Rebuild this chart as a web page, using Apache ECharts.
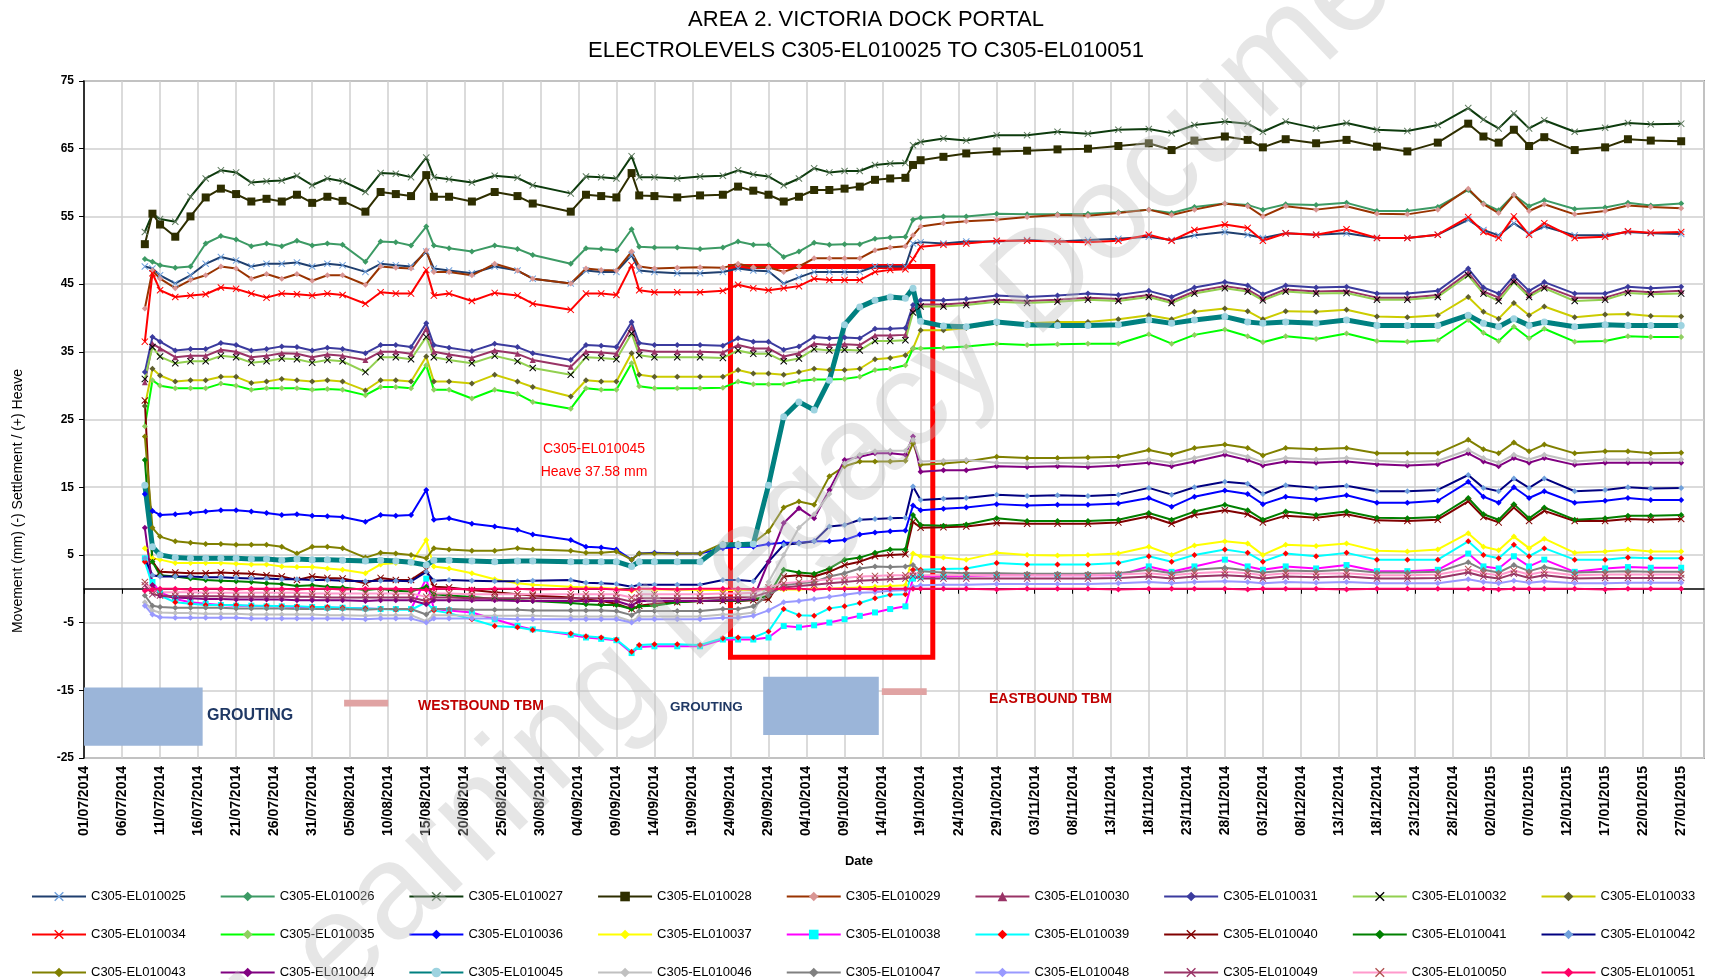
<!DOCTYPE html>
<html>
<head>
<meta charset="utf-8">
<script src="https://cdn.jsdelivr.net/npm/echarts@6/dist/echarts.min.js"></script>
<style>
  html, body { margin: 0; padding: 0; background: #fff; }
  #main { width: 1711px; height: 980px; }
</style>
</head>
<body>
<div id="main"></div>
<script>
// reading dates (dd/mm/yyyy)
var readingDates = [
  '09/07/2014','10/07/2014','11/07/2014','13/07/2014','15/07/2014','17/07/2014','19/07/2014','21/07/2014','23/07/2014','25/07/2014',
  '27/07/2014','29/07/2014','31/07/2014','02/08/2014','04/08/2014','07/08/2014','09/08/2014','11/08/2014','13/08/2014','15/08/2014',
  '16/08/2014','18/08/2014','21/08/2014','24/08/2014','27/08/2014','29/08/2014','03/09/2014','05/09/2014','07/09/2014','09/09/2014',
  '11/09/2014','12/09/2014','14/09/2014','17/09/2014','20/09/2014','23/09/2014','25/09/2014','27/09/2014','29/09/2014','01/10/2014',
  '03/10/2014','05/10/2014','07/10/2014','09/10/2014','11/10/2014','13/10/2014','15/10/2014','17/10/2014','18/10/2014','19/10/2014',
  '22/10/2014','25/10/2014','29/10/2014','02/11/2014','06/11/2014','10/11/2014','14/11/2014','18/11/2014','21/11/2014','24/11/2014',
  '28/11/2014','01/12/2014','03/12/2014','06/12/2014','10/12/2014','14/12/2014','18/12/2014','22/12/2014','26/12/2014','30/12/2014',
  '01/01/2015','03/01/2015','05/01/2015','07/01/2015','09/01/2015','13/01/2015','17/01/2015','20/01/2015','23/01/2015','27/01/2015'
];

var xTickLabels = [
  '01/07/2014','06/07/2014','11/07/2014','16/07/2014','21/07/2014','26/07/2014','31/07/2014','05/08/2014','10/08/2014','15/08/2014',
  '20/08/2014','25/08/2014','30/08/2014','04/09/2014','09/09/2014','14/09/2014','19/09/2014','24/09/2014','29/09/2014','04/10/2014',
  '09/10/2014','14/10/2014','19/10/2014','24/10/2014','29/10/2014','03/11/2014','08/11/2014','13/11/2014','18/11/2014','23/11/2014',
  '28/11/2014','03/12/2014','08/12/2014','13/12/2014','18/12/2014','23/12/2014','28/12/2014','02/01/2015','07/01/2015','12/01/2015',
  '17/01/2015','22/01/2015','27/01/2015'
];

// movements (mm)
var el25 = [47.6,47.3,46.3,45.1,46.3,48.0,49.0,48.5,47.6,48.0, 48.0,48.2,47.6,48.0,47.8,46.8,48.0,47.8,47.6,49.8,
  47.3,47.0,46.6,47.6,47.0,45.8,45.1,47.0,46.8,46.8, 49.3,47.0,46.8,46.6,46.6,46.8,47.3,47.0,46.9,45.1,
  46.0,46.8,46.8,46.8,46.8,47.6,47.6,47.6,51.0,51.2, 51.0,51.3,51.3,51.5,51.3,51.5,51.7,52.0,51.5,52.2,
  52.7,52.3,51.8,52.5,52.3,52.5,51.8,51.8,52.3,54.5, 53.0,52.2,54.0,52.5,53.5,52.2,52.2,52.7,52.5,52.4];
var el26 = [48.7,48.3,47.8,47.4,47.6,51.0,52.1,51.6,50.6,51.0, 50.6,51.4,50.7,51.0,50.8,48.3,51.3,51.2,50.7,53.5,
  50.7,50.3,49.8,50.7,50.2,49.3,48.0,50.3,50.2,50.0, 53.1,50.5,50.4,50.4,50.2,50.4,51.3,50.8,50.8,49.0,
  49.8,51.1,50.8,50.9,50.9,51.7,51.9,52.0,54.5,54.8, 55.0,55.0,55.4,55.3,55.3,55.4,55.6,56.0,55.5,56.4,
  56.9,56.7,56.0,56.8,56.7,57.0,55.8,55.8,56.4,58.9, 56.9,55.9,58.2,56.5,57.4,56.1,56.3,57.0,56.6,56.9];
var el27 = [52.7,55.4,54.6,54.2,57.9,60.6,61.8,61.5,60.0,60.2, 60.3,61.0,59.6,60.6,60.2,58.6,61.4,61.3,60.8,63.7,
  60.8,60.5,60.0,61.0,60.7,59.6,58.4,60.9,60.8,60.6, 63.9,60.8,60.8,60.6,60.9,61.0,61.8,61.2,60.9,59.6,
  60.6,62.1,61.5,61.7,61.7,62.6,62.8,62.9,65.5,66.0, 66.5,66.2,67.0,67.0,67.5,67.2,67.8,67.9,67.3,68.5,
  69.0,68.7,67.5,69.0,68.0,68.8,67.8,67.6,68.5,71.0, 69.3,68.0,70.2,68.0,69.2,67.5,68.1,68.8,68.6,68.7];
var el28 = [50.9,55.4,53.8,52.0,55.0,57.8,59.1,58.3,57.2,57.6, 57.2,58.2,57.0,57.9,57.3,55.7,58.6,58.3,58.0,61.1,
  57.9,57.9,57.2,58.6,58.0,56.9,55.7,58.2,58.0,57.8, 61.4,58.1,58.0,57.8,58.1,58.2,59.4,58.8,58.2,57.2,
  57.9,58.9,58.9,59.1,59.4,60.4,60.6,60.7,62.6,63.3, 63.8,64.3,64.6,64.7,64.9,65.0,65.4,65.8,64.8,66.2,
  66.8,66.3,65.2,66.4,65.8,66.3,65.3,64.6,65.9,68.7, 66.8,65.9,67.8,65.4,66.7,64.8,65.2,66.4,66.2,66.1];
var el29 = [41.4,47.0,45.8,44.4,45.6,46.3,47.6,47.3,45.8,46.5, 45.8,46.5,45.5,46.3,46.3,44.9,47.6,47.4,47.3,50.0,
  46.8,46.8,46.3,48.0,47.0,45.8,45.1,47.3,47.1,47.0, 49.8,47.6,47.3,47.4,47.5,47.4,48.0,47.5,47.5,46.8,
  47.6,48.8,48.8,48.8,48.8,50.0,50.4,50.6,52.2,53.5, 54.0,54.3,54.5,54.9,55.2,55.1,55.5,56.0,55.2,56.0,
  56.9,56.5,55.0,56.5,56.0,56.5,55.4,55.3,56.0,59.1, 56.8,55.5,58.2,55.8,56.8,55.3,55.8,56.6,56.4,56.2];
var el30 = [30.5,36.2,35.5,34.2,34.4,34.4,35.3,35.0,34.2,34.4, 34.8,34.7,34.2,34.6,34.4,33.8,35.0,35.0,34.7,38.4,
  35.0,34.6,34.1,35.2,34.7,33.8,32.8,35.0,34.9,34.7, 38.6,35.3,35.0,35.0,35.0,34.9,36.0,35.5,35.5,34.3,
  34.8,36.2,36.0,36.1,36.0,37.4,37.4,37.5,41.3,42.0, 42.0,42.2,42.7,42.5,42.7,43.0,42.8,43.4,42.5,43.9,
  44.7,44.2,42.9,44.2,43.9,44.0,43.0,43.0,43.4,46.7, 43.9,43.0,45.6,43.4,44.7,43.0,43.0,44.0,43.8,44.0];
var el31 = [32.0,37.2,36.5,35.2,35.4,35.4,36.3,36.0,35.2,35.4, 35.8,35.7,35.2,35.6,35.4,34.8,36.0,36.0,35.7,39.2,
  36.0,35.6,35.1,36.2,35.7,34.8,33.8,36.0,35.9,35.7, 39.4,36.3,36.0,36.0,36.0,35.9,37.0,36.5,36.5,35.3,
  35.8,37.2,37.0,37.1,37.0,38.4,38.4,38.5,41.9,42.6, 42.6,42.8,43.3,43.1,43.3,43.6,43.4,44.0,43.1,44.5,
  45.3,44.8,43.5,44.8,44.5,44.6,43.6,43.6,44.0,47.3, 44.5,43.6,46.2,44.0,45.3,43.6,43.6,44.6,44.4,44.6];
var el32 = [31.0,35.7,34.3,33.3,33.6,33.6,34.4,34.2,33.4,33.6, 34.0,33.9,33.4,33.8,33.6,32.0,34.2,34.2,33.9,37.2,
  34.2,33.8,33.3,34.4,33.6,32.6,31.6,34.2,34.1,33.9, 37.7,34.5,34.2,34.2,34.2,34.1,35.2,34.7,34.7,33.6,
  34.0,35.4,35.2,35.3,35.2,36.6,36.6,36.7,40.8,41.7, 41.7,41.9,42.4,42.2,42.4,42.7,42.5,43.1,42.2,43.6,
  44.4,43.9,42.6,43.9,43.6,43.7,42.7,42.7,43.1,46.3, 43.6,42.5,45.3,43.1,44.4,42.5,42.7,43.7,43.5,43.6];
var el33 = [27.0,32.5,31.5,30.6,30.8,30.8,31.3,31.3,30.4,30.6, 31.0,30.8,30.6,30.8,30.6,29.3,30.8,30.8,30.6,34.3,
  30.6,30.6,30.3,31.6,30.6,29.8,28.4,30.8,30.6,30.6, 34.8,31.6,31.3,31.3,31.3,31.3,32.3,31.8,31.8,31.6,
  32.0,32.5,32.3,32.3,32.5,33.9,34.1,34.5,35.5,38.2, 38.2,38.5,39.2,39.2,39.4,39.4,39.8,40.4,39.8,40.9,
  41.4,41.0,39.8,41.0,40.9,41.2,40.2,40.1,40.4,43.1, 40.9,39.9,42.2,40.4,41.7,40.1,40.5,40.6,40.3,40.2];
var el34 = [36.5,46.6,44.1,43.1,43.3,43.5,44.5,44.3,43.6,43.0, 43.6,43.5,43.3,43.6,43.4,42.1,43.8,43.6,43.6,47.1,
  43.3,43.6,42.5,43.7,43.3,42.1,41.2,43.6,43.6,43.4, 47.8,44.1,43.8,43.8,43.8,44.0,44.9,44.4,44.1,44.4,
  44.7,45.8,45.6,45.6,45.6,46.8,47.1,47.2,48.7,50.5, 50.8,51.0,51.4,51.4,51.3,51.2,51.4,52.3,51.4,53.0,
  53.8,53.3,51.4,52.5,52.3,53.1,51.8,51.8,52.3,54.9, 52.7,51.8,55.0,52.3,54.0,51.8,52.0,52.8,52.6,52.7];
var el35 = [24.0,30.8,30.0,29.6,29.6,29.6,30.3,30.0,29.4,29.6, 29.6,29.6,29.4,29.5,29.4,28.6,29.8,29.8,29.6,33.0,
  29.4,29.4,28.1,29.4,28.8,27.6,26.6,29.6,29.4,29.4, 33.3,29.9,29.6,29.6,29.6,29.7,30.6,30.2,30.2,30.2,
  30.7,30.9,30.9,31.0,31.3,32.3,32.5,33.0,35.5,35.5, 35.6,35.8,36.2,36.0,36.1,36.2,36.2,37.6,36.2,37.5,
  38.3,37.3,36.4,37.3,36.9,37.7,36.6,36.5,36.7,39.7, 37.8,36.6,38.7,37.0,38.4,36.5,36.6,37.3,37.2,37.2];
var el36 = [14.0,11.5,10.9,11.0,11.2,11.4,11.6,11.6,11.4,11.2, 10.9,11.0,10.8,10.7,10.6,9.9,10.9,10.8,10.9,14.6,
  10.2,10.4,9.6,9.2,8.7,8.0,7.2,6.2,6.1,5.8, 4.3,5.2,5.3,5.2,5.2,6.0,6.2,6.2,6.6,6.8,
  6.8,7.0,7.0,7.2,8.0,8.3,8.5,8.6,12.3,11.6, 11.8,12.0,12.5,12.3,12.4,12.4,12.6,13.4,12.1,13.6,
  14.5,14.0,12.5,13.6,13.2,13.8,12.7,12.7,13.0,15.8, 13.6,12.7,15.0,13.4,14.4,12.7,13.0,13.4,13.1,13.1];
var el37 = [6.0,4.5,4.3,3.8,3.8,3.8,3.8,3.7,3.6,3.6, 3.3,3.2,3.2,3.0,2.8,2.3,3.6,3.8,3.8,7.2,
  3.3,3.0,2.3,1.4,0.8,0.6,0.3,0.2,0.1,0.0, -0.3,0.0,-0.1,-0.1,-0.2,-0.2,-0.2,-0.2,-0.2,-0.1,
  -0.1,0.0,0.0,0.1,0.2,0.3,0.4,0.5,5.2,4.8, 4.6,4.3,5.3,5.0,4.9,5.0,5.2,6.2,5.0,6.4,
  7.0,6.7,5.0,6.5,6.3,6.7,5.6,5.5,5.8,8.2, 6.2,5.7,7.7,6.0,7.4,5.3,5.5,5.8,5.5,5.5];
var el38 = [4.5,1.0,-0.5,-1.5,-2.0,-2.2,-2.4,-2.5,-2.5,-2.6, -2.6,-2.7,-2.7,-2.8,-2.8,-2.9,-3.0,-3.0,-3.0,1.5,
  -3.0,-3.2,-3.5,-4.5,-5.5,-6.0,-6.8,-7.2,-7.4,-7.6, -9.5,-8.6,-8.5,-8.5,-8.5,-7.5,-7.5,-7.5,-7.2,-5.5,
  -5.7,-5.4,-5.0,-4.5,-4.0,-3.5,-3.0,-2.6,1.5,1.8, 1.8,1.9,2.0,2.0,2.0,2.0,2.0,3.3,2.5,3.3,
  4.3,3.3,2.8,3.3,3.0,3.5,2.6,2.6,2.8,5.2, 3.3,3.0,4.8,3.3,4.3,2.5,3.0,3.2,3.1,3.1];
var el39 = [4.0,0.5,-1.0,-2.0,-2.2,-2.4,-2.4,-2.4,-2.5,-2.5, -2.6,-2.6,-2.7,-2.7,-2.8,-2.9,-3.0,-3.1,-3.1,-2.0,
  -3.2,-3.6,-4.5,-5.5,-5.7,-6.1,-6.6,-7.0,-7.2,-7.5, -9.3,-8.3,-8.2,-8.2,-8.3,-7.3,-7.2,-7.2,-6.3,-3.0,
  -3.9,-4.0,-2.9,-2.6,-2.1,-1.4,-0.9,-0.8,2.8,2.8, 2.9,3.0,3.8,3.6,3.6,3.6,3.8,4.8,4.0,5.0,
  5.8,5.3,4.0,5.2,4.8,5.3,4.3,4.3,4.3,7.0, 5.0,4.5,6.5,4.8,6.0,4.3,4.3,4.6,4.5,4.5];
var el40 = [27.8,4.0,2.5,2.4,2.3,2.3,2.4,2.3,2.2,2.0, 1.8,1.3,1.8,1.6,1.5,0.8,1.6,1.3,1.3,2.8,
  0.3,0.2,-0.2,-0.5,-0.8,-1.0,-1.3,-1.6,-1.8,-2.2, -3.0,-2.5,-2.2,-2.0,-1.8,-1.8,-1.8,-1.7,-1.6,1.8,
  2.0,1.8,2.5,3.5,4.0,4.8,5.0,5.1,9.9,9.0, 9.1,9.2,9.7,9.6,9.6,9.6,9.8,10.7,9.6,10.9,
  11.6,11.0,9.8,10.8,10.5,11.0,10.1,10.0,10.2,12.9, 10.6,9.8,12.0,10.0,11.5,10.0,10.0,10.3,10.2,10.3];
var el41 = [19.0,4.0,2.0,1.8,1.5,1.3,1.2,1.1,1.0,0.8, 0.7,0.4,0.5,0.3,0.2,-0.2,0.0,-0.3,-0.4,0.3,
  -0.8,-1.0,-1.2,-1.5,-1.7,-1.8,-2.1,-2.3,-2.4,-2.4, -3.0,-2.6,-2.5,-2.0,-1.8,-1.7,-1.8,-1.6,-1.0,2.8,
  2.4,2.2,3.0,4.3,4.6,5.3,5.8,5.8,10.9,9.4, 9.3,9.5,10.4,10.0,10.0,10.0,10.2,11.2,10.2,11.4,
  12.4,11.6,10.2,11.4,10.9,11.4,10.5,10.4,10.6,13.4, 11.0,10.2,12.5,10.4,12.0,10.2,10.4,10.8,10.8,10.9];
var el42 = [4.5,2.0,1.8,1.8,1.8,1.7,1.7,1.6,1.5,1.5, 1.4,1.4,1.3,1.3,1.2,1.1,1.2,1.2,1.1,2.5,
  1.2,1.3,1.2,1.1,1.1,1.2,1.3,0.9,0.8,0.7, 0.3,0.6,0.6,0.6,0.6,1.3,1.3,1.1,4.0,6.5,
  6.7,7.0,9.2,9.4,10.2,10.3,10.4,10.5,15.1,13.1, 13.3,13.4,13.9,13.7,13.8,13.7,13.9,14.9,13.9,15.0,
  15.8,15.5,14.0,15.3,14.9,15.2,14.4,14.4,14.6,16.8, 14.9,14.4,16.3,14.9,16.3,14.4,14.6,15.0,14.8,14.9];
var el43 = [22.5,9.0,7.7,7.0,6.8,6.6,6.6,6.5,6.5,6.5, 6.2,5.2,6.2,6.2,6.0,4.6,5.3,5.2,5.0,4.5,
  6.0,5.8,5.6,5.6,6.0,5.8,5.6,5.3,5.3,5.5, 4.3,5.2,5.2,5.2,5.2,6.7,6.7,6.8,8.5,12.0,
  12.9,12.4,16.6,18.1,18.8,18.8,18.8,18.9,21.5,18.3, 18.5,18.8,19.5,19.3,19.3,19.4,19.5,20.5,19.8,20.8,
  21.3,20.8,19.7,20.8,20.6,20.8,20.0,20.0,20.0,22.0, 20.6,20.0,21.6,20.3,21.3,20.0,20.3,20.3,20.0,20.1];
var el44 = [9.0,0.5,-1.0,-1.3,-1.4,-1.5,-1.5,-1.6,-1.6,-1.6, -1.6,-1.7,-1.7,-1.7,-1.7,-1.8,-1.7,-1.7,-1.7,-2.3,
  -1.7,-1.7,-1.7,-1.7,-1.8,-1.8,-1.8,-1.8,-1.8,-1.8, -2.5,-1.8,-1.8,-1.8,-1.8,-1.7,-1.7,-1.5,4.0,9.7,
  11.9,10.4,14.6,19.0,19.5,20.0,20.0,19.8,22.5,17.3, 17.5,17.5,18.1,18.0,18.1,18.0,18.2,18.6,18.1,18.8,
  19.8,19.0,18.2,18.8,18.6,18.8,18.4,18.2,18.4,20.0, 18.8,18.1,19.3,18.6,19.3,18.3,18.6,18.6,18.6,18.6];
var el45 = [15.3,6.2,5.0,4.6,4.5,4.5,4.5,4.5,4.4,4.4, 4.2,4.4,4.3,4.3,4.2,4.1,4.2,4.1,3.9,3.5,
  4.2,4.2,4.1,4.0,4.1,4.1,4.0,4.0,4.0,4.0, 3.3,4.0,4.0,4.0,4.0,6.5,6.5,6.6,15.3,25.4,
  27.6,26.4,30.8,39.0,41.6,42.6,43.1,42.9,44.4,39.5, 38.8,38.7,39.4,39.0,38.9,38.9,39.0,39.7,39.2,39.7,
  40.2,39.4,39.2,39.4,39.2,39.7,38.9,38.9,38.9,40.4, 39.2,38.7,39.9,38.9,39.4,38.7,39.0,38.9,38.9,38.9];
var el46 = [-2.0,-3.2,-3.5,-3.6,-3.6,-3.7,-3.7,-3.7,-3.8,-3.8, -3.8,-3.8,-3.8,-3.9,-3.9,-4.0,-3.9,-3.9,-3.9,-4.8,
  -3.9,-3.9,-4.0,-4.0,-4.0,-4.0,-4.1,-4.1,-4.1,-4.1, -4.8,-4.1,-4.1,-4.1,-4.1,-3.8,-3.8,-3.5,1.0,5.0,
  9.0,11.0,14.0,18.5,19.8,20.3,20.4,20.4,22.0,18.8, 18.9,19.0,18.6,18.5,18.6,18.5,18.7,19.1,18.6,19.3,
  20.3,19.5,18.7,19.3,19.1,19.3,18.9,18.7,18.9,20.5, 19.3,18.6,19.8,19.1,19.8,18.8,19.1,19.1,19.1,19.1];
var el47 = [-1.0,-2.5,-2.7,-2.8,-2.8,-2.8,-2.8,-2.9,-2.9,-2.9, -2.9,-3.0,-3.0,-3.0,-3.0,-3.1,-3.0,-3.0,-3.0,-3.8,
  -3.0,-3.0,-3.1,-3.1,-3.1,-3.2,-3.2,-3.2,-3.2,-3.3, -3.9,-3.3,-3.3,-3.3,-3.3,-3.0,-3.0,-2.6,-1.0,0.5,
  0.8,1.0,1.8,2.3,3.0,3.3,3.2,3.3,3.5,2.6, 2.4,2.3,2.3,2.2,2.2,2.2,2.3,2.8,2.3,2.8,
  3.1,2.7,2.4,2.7,2.6,2.8,2.4,2.4,2.5,3.9, 2.8,2.4,3.5,2.6,3.2,2.4,2.5,2.6,2.5,2.5];
var el48 = [-2.5,-3.8,-4.2,-4.3,-4.3,-4.3,-4.3,-4.3,-4.4,-4.4, -4.4,-4.4,-4.4,-4.4,-4.4,-4.5,-4.4,-4.4,-4.4,-5.0,
  -4.4,-4.4,-4.4,-4.4,-4.5,-4.5,-4.5,-4.5,-4.5,-4.5, -5.0,-4.5,-4.5,-4.5,-4.5,-4.3,-4.3,-4.0,-3.2,-2.0,
  -1.8,-1.5,-1.2,-0.9,-0.6,-0.5,-0.3,-0.2,0.3,0.5, 0.6,0.6,0.7,0.7,0.7,0.7,0.8,1.0,0.8,1.0,
  1.1,1.0,0.8,1.0,0.9,1.0,0.8,0.8,0.8,1.4, 1.0,0.8,1.2,0.9,1.1,0.8,0.8,0.9,0.9,0.9];
var el49 = [0.5,-0.8,-1.0,-1.1,-1.1,-1.1,-1.1,-1.2,-1.2,-1.2, -1.2,-1.2,-1.2,-1.3,-1.3,-1.3,-1.3,-1.3,-1.3,-1.8,
  -1.3,-1.3,-1.4,-1.4,-1.4,-1.4,-1.4,-1.4,-1.4,-1.4, -1.9,-1.4,-1.4,-1.4,-1.4,-1.3,-1.3,-1.2,-0.5,0.2,
  0.4,0.6,0.8,1.0,1.2,1.3,1.4,1.5,1.9,1.5, 1.5,1.5,1.5,1.5,1.5,1.5,1.6,1.8,1.5,1.8,
  2.0,1.8,1.5,1.8,1.7,1.8,1.5,1.5,1.6,2.4, 1.8,1.5,2.2,1.6,2.0,1.5,1.6,1.6,1.6,1.6];
var el50 = [1.0,-0.3,-0.5,-0.5,-0.5,-0.6,-0.6,-0.6,-0.6,-0.6, -0.6,-0.6,-0.7,-0.7,-0.7,-0.7,-0.7,-0.7,-0.7,-1.2,
  -0.7,-0.7,-0.8,-0.8,-0.8,-0.8,-0.8,-0.8,-0.8,-0.8, -1.3,-0.8,-0.8,-0.8,-0.8,-0.7,-0.7,-0.6,0.2,0.8,
  1.0,1.2,1.4,1.6,1.8,1.9,2.0,2.0,2.4,2.0, 2.0,2.0,2.0,2.0,2.0,2.0,2.1,2.3,2.0,2.3,
  2.5,2.3,2.0,2.3,2.2,2.3,2.0,2.0,2.1,2.9, 2.3,2.0,2.7,2.1,2.5,2.0,2.1,2.1,2.1,2.1];
var el51 = [-0.3,-0.1,0.0,0.0,-0.1,0.0,0.0,-0.1,0.0,0.0, 0.0,-0.1,0.0,0.0,-0.1,0.0,0.0,0.0,-0.1,-0.2,
  0.0,0.0,-0.1,0.0,0.0,-0.1,0.0,0.0,0.0,-0.1, -0.2,0.0,0.0,-0.1,0.0,0.0,0.0,-0.1,0.0,0.0,
  0.0,-0.1,0.0,0.0,0.0,-0.1,0.0,0.0,0.0,0.0, 0.0,0.0,-0.1,0.0,0.0,0.0,-0.1,0.0,0.0,0.0,
  0.0,-0.1,0.0,0.0,0.0,-0.1,0.0,0.0,0.0,0.0, 0.0,-0.1,0.0,0.0,0.0,0.0,-0.1,0.0,0.0,0.0];

var seriesNames = [
  'C305-EL010025','C305-EL010026','C305-EL010027','C305-EL010028','C305-EL010029','C305-EL010030','C305-EL010031','C305-EL010032','C305-EL010033',
  'C305-EL010034','C305-EL010035','C305-EL010036','C305-EL010037','C305-EL010038','C305-EL010039','C305-EL010040','C305-EL010041','C305-EL010042',
  'C305-EL010043','C305-EL010044','C305-EL010045','C305-EL010046','C305-EL010047','C305-EL010048','C305-EL010049','C305-EL010050','C305-EL010051'
];
var seriesValues = [el25, el26, el27, el28, el29, el30, el31, el32, el33, el34, el35, el36, el37, el38,
  el39, el40, el41, el42, el43, el44, el45, el46, el47, el48, el49, el50, el51];

var lineColors = ['#1F3F6F','#3C9A64','#0D3B0D','#2E2E00','#993300','#993366','#3B3B9E','#92D050','#CCCC00',
  '#FF0000','#00FF00','#0000FF','#FFFF00','#FF00FF','#00FFFF','#800000','#008000','#000080',
  '#808000','#800080','#008080','#C0C0C0','#808080','#9999FF','#993366','#FF99CC','#FF0066'];
var markerColors = ['#6FA0DC','#3C9A64','#5E7A5E','#2E2E00','#D99694','#993366','#3B3B9E','#000000','#5E5E2E',
  '#FF0000','#8FCF60','#0000FF','#FFFF00','#00FFFF','#FF0000','#800000','#008000','#6FA0DC',
  '#808000','#800080','#9DD3E0','#C0C0C0','#808080','#9999FF','#993366','#B05050','#FF0066'];

var X_MARK = 'path://M0,1L1,0L5,4L9,0L10,1L6,5L10,9L9,10L5,6L1,10L0,9L4,5Z';
var markerShapes = [X_MARK,'diamond',X_MARK,'rect','diamond','triangle','diamond',X_MARK,'diamond',
  X_MARK,'diamond','diamond','diamond','rect','diamond',X_MARK,'diamond','diamond',
  'diamond','diamond','circle','diamond','diamond','diamond',X_MARK,X_MARK,'diamond'];

// annotation boxes [day0, y0, day1, y1]
var redBox = [85, 47.6, 111.6, -10.1];
var groutBoxes = [[0, -14.6, 15.6, -23.2], [89.3, -13.0, 104.5, -21.6]];
var tbmBars = [[34.2, -16.4, 40.0, -17.4], [104.9, -14.7, 110.8, -15.7]];

var DAY = 86400000;
var BASE = Date.UTC(2014, 6, 1);
function toDay(s) {
  var p = s.split('/');
  return (Date.UTC(+p[2], +p[1] - 1, +p[0]) - BASE) / DAY;
}

var FONT = "'Liberation Sans', Arial, sans-serif";
var myChart = echarts.init(document.getElementById('main'));

var series = seriesNames.map(function (name, i) {
  var isX = markerShapes[i] === X_MARK;
  return {
    name: name,
    type: 'line',
    data: readingDates.map(function (d, j) { return [toDay(d), seriesValues[i][j]]; }),
    symbol: markerShapes[i],
    symbolSize: i === 3 ? 8 : (i === 20 ? 7 : (isX ? 7 : 6)),
    showAllSymbol: true,
    lineStyle: { color: lineColors[i], width: i === 20 ? 5 : 2 },
    itemStyle: { color: markerColors[i] },
    emphasis: { disabled: true },
    animation: false
  };
});

function box(b, style) {
  return [{ coord: [b[0], b[1]], itemStyle: style }, { coord: [b[2], b[3]] }];
}

series.push({
  name: 'notes',
  type: 'line',
  data: [],
  z: 10,
  silent: true,
  animation: false,
  markArea: {
    silent: true,
    animation: false,
    label: { show: false },
    data: [
      box(groutBoxes[0], { color: '#9BB5D9', opacity: 1 }),
      box(groutBoxes[1], { color: '#9BB5D9', opacity: 1 }),
      box(tbmBars[0], { color: '#E0A3A3', opacity: 1 }),
      box(tbmBars[1], { color: '#E0A3A3', opacity: 1 }),
      box(redBox, { color: 'rgba(0,0,0,0)', borderColor: '#FF0000', borderWidth: 5, opacity: 1 })
    ]
  }
});

var option = {
  backgroundColor: '#fff',
  animation: false,
  grid: { left: 84, right: 7, top: 81, bottom: 222, show: true, borderColor: '#9A9A9A', borderWidth: 2 },
  xAxis: {
    type: 'value',
    min: 0, max: 213, interval: 5,
    axisLine: { lineStyle: { color: '#000', width: 1.5 } },
    axisTick: { show: true, length: 5, lineStyle: { color: '#000' } },
    splitLine: { show: true, lineStyle: { color: '#CFCFCF', width: 1.5 } },
    axisLabel: {
      rotate: 90, margin: 8, fontSize: 14, fontWeight: 'bold', color: '#000', fontFamily: FONT,
      showMaxLabel: false,
      formatter: function (v) { return v % 5 === 0 ? (xTickLabels[v / 5] || '') : ''; }
    }
  },
  yAxis: {
    type: 'value',
    min: -25, max: 75, interval: 10,
    axisLine: { show: true, lineStyle: { color: '#000', width: 1.5 } },
    axisTick: { show: true, length: 5, lineStyle: { color: '#000' } },
    splitLine: { show: true, lineStyle: { color: '#CFCFCF', width: 1.5 } },
    axisLabel: { fontSize: 12, fontWeight: 'bold', color: '#000', fontFamily: FONT, margin: 10 }
  },
  legend: [0, 1, 2].map(function (r) {
    return {
      data: seriesNames.slice(r * 9, r * 9 + 9),
      left: 26, top: 885 + r * 38,
      orient: 'horizontal',
      itemWidth: 54, itemHeight: 12, itemGap: 34,
      selectedMode: false,
      textStyle: { fontSize: 13, color: '#000', fontFamily: FONT, width: 100, overflow: 'none' }
    };
  }),
  graphic: [
    { type: 'text', x: 866, y: 20, style: { text: 'AREA 2. VICTORIA DOCK PORTAL', font: "22px " + FONT, fill: '#000', align: 'center', verticalAlign: 'middle' } },
    { type: 'text', x: 866, y: 51, style: { text: 'ELECTROLEVELS C305-EL010025 TO C305-EL010051', font: "22px " + FONT, fill: '#000', align: 'center', verticalAlign: 'middle' } },
    { type: 'text', x: 18, y: 501, rotation: Math.PI / 2, style: { text: 'Movement (mm) (-) Settlement / (+) Heave', font: "14px " + FONT, fill: '#000', align: 'center', verticalAlign: 'middle' } },
    { type: 'text', x: 859, y: 861, style: { text: 'Date', font: "bold 13px " + FONT, fill: '#000', align: 'center', verticalAlign: 'middle' } },
    { type: 'text', x: 207, y: 716, z: 20, style: { text: 'GROUTING', font: "bold 16px " + FONT, fill: '#1F3864', verticalAlign: 'middle' } },
    { type: 'text', x: 418, y: 706, z: 20, style: { text: 'WESTBOUND TBM', font: "bold 14px " + FONT, fill: '#C00000', verticalAlign: 'middle' } },
    { type: 'text', x: 670, y: 707, z: 20, style: { text: 'GROUTING', font: "bold 13.5px " + FONT, fill: '#1F3864', verticalAlign: 'middle' } },
    { type: 'text', x: 989, y: 699, z: 20, style: { text: 'EASTBOUND TBM', font: "bold 14px " + FONT, fill: '#C00000', verticalAlign: 'middle' } },
    { type: 'text', x: 594, y: 449, z: 20, style: { text: 'C305-EL010045', font: "14px " + FONT, fill: '#FF0000', align: 'center', verticalAlign: 'middle' } },
    { type: 'text', x: 594, y: 472, z: 20, style: { text: 'Heave 37.58 mm', font: "14px " + FONT, fill: '#FF0000', align: 'center', verticalAlign: 'middle' } },
    { type: 'text', x: 857, y: 458, z: 100, rotation: 0.76, silent: true,
      style: { text: 'Learning Legacy Document', font: "135px " + FONT, fill: 'rgba(190,190,190,0.38)', align: 'center', verticalAlign: 'middle' } }
  ],
  series: series
};

myChart.setOption(option);
</script>
</body>
</html>
